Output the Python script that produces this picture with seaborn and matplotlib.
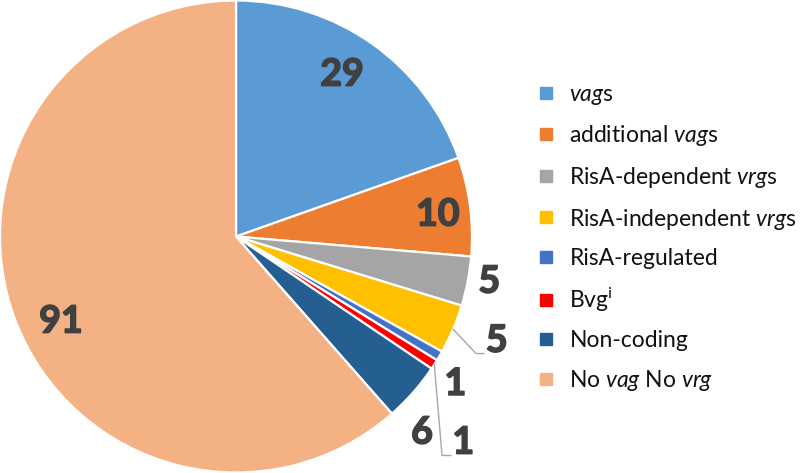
import numpy as np
import matplotlib
matplotlib.use("Agg")
import matplotlib.pyplot as plt
import seaborn as sns
from matplotlib.lines import Line2D
import matplotlib.patheffects as pe

# ---- data ----
categories = ["vags", "additional vags", "RisA-dependent vrgs", "RisA-independent vrgs",
              "RisA-regulated", "Bvgi", "Non-coding", "No vag No vrg"]
legend_labels = [r"$\mathit{vag}$s", r"additional $\mathit{vag}$s",
                 r"RisA-dependent $\mathit{vrg}$s", r"RisA-independent $\mathit{vrg}$s",
                 "RisA-regulated", r"Bvg$^{\mathrm{i}}$", "Non-coding",
                 r"No $\mathit{vag}$ No $\mathit{vrg}$"]
values = [29, 10, 5, 5, 1, 1, 6, 91]
colors = ["#5B9BD5", "#ED7D31", "#A5A5A5", "#FFC000", "#4472C4", "#FF0000", "#255E91", "#F4B183"]

sns.set_theme(style="white")
plt.rcParams["font.family"] = ["Lato", "DejaVu Sans"]
plt.rcParams["mathtext.fontset"] = "custom"
plt.rcParams["mathtext.rm"] = "Lato"
plt.rcParams["mathtext.it"] = "Lato:italic"
plt.rcParams["mathtext.bf"] = "Lato:bold"

fig = plt.figure(figsize=(8, 4.73), dpi=100)
ax = fig.add_axes([0, 0, 472 / 800, 1])
palette = sns.color_palette(colors)
wedges, _ = ax.pie(values, colors=palette, startangle=90, counterclock=False,
                   radius=1.0, wedgeprops=dict(edgecolor="white", linewidth=1.6))
ax.set_xlim(-1, 1)
ax.set_ylim(-1, 1)
ax.axis("off")

# label placement (polar: radius, angle in degrees), style only
label_pos = [(0.82, 56.8), (0.86, 6.2), (1.09, -10.1), (1.19, -21.8),
             (1.12, -33.9), (1.30, -42.2), (1.145, -46.5), (0.825, 205.9)]
lab_color = "#404040"
for v, (r, a) in zip(values, label_pos):
    t = np.deg2rad(a)
    ax.text(r * np.cos(t), r * np.sin(t), str(v), ha="center", va="center",
            fontsize=27, fontweight="bold", color=lab_color,
            path_effects=[pe.withStroke(linewidth=1.2, foreground=lab_color)])

# leader lines for the two crowded slices (yellow and red)
def mid_point(w, rr=1.0):
    th = np.deg2rad((w.theta1 + w.theta2) / 2)
    return rr * np.cos(th), rr * np.sin(th)

lc = "#A6A6A6"
x0, y0 = mid_point(wedges[3])
ax.plot([x0, 1.017, 1.051], [y0, -0.496, -0.496], color=lc, lw=1.0, clip_on=False)
x0, y0 = mid_point(wedges[5])
ax.plot([x0, 0.873, 0.911], [y0, -0.928, -0.928], color=lc, lw=1.0, clip_on=False)

handles = [Line2D([0], [0], marker="s", linestyle="none", markersize=8,
                  markerfacecolor=c, markeredgecolor=c) for c in colors]
leg = fig.legend(handles, legend_labels, loc="upper left",
                 bbox_to_anchor=(535 / 800, 1 - 84 / 473), frameon=False,
                 fontsize=16.5, labelspacing=0.72, handletextpad=0.5,
                 handlelength=1.0, borderpad=0, borderaxespad=0)
for t in leg.get_texts():
    t.set_color("#111111")

fig.savefig("out.png", dpi=100)
